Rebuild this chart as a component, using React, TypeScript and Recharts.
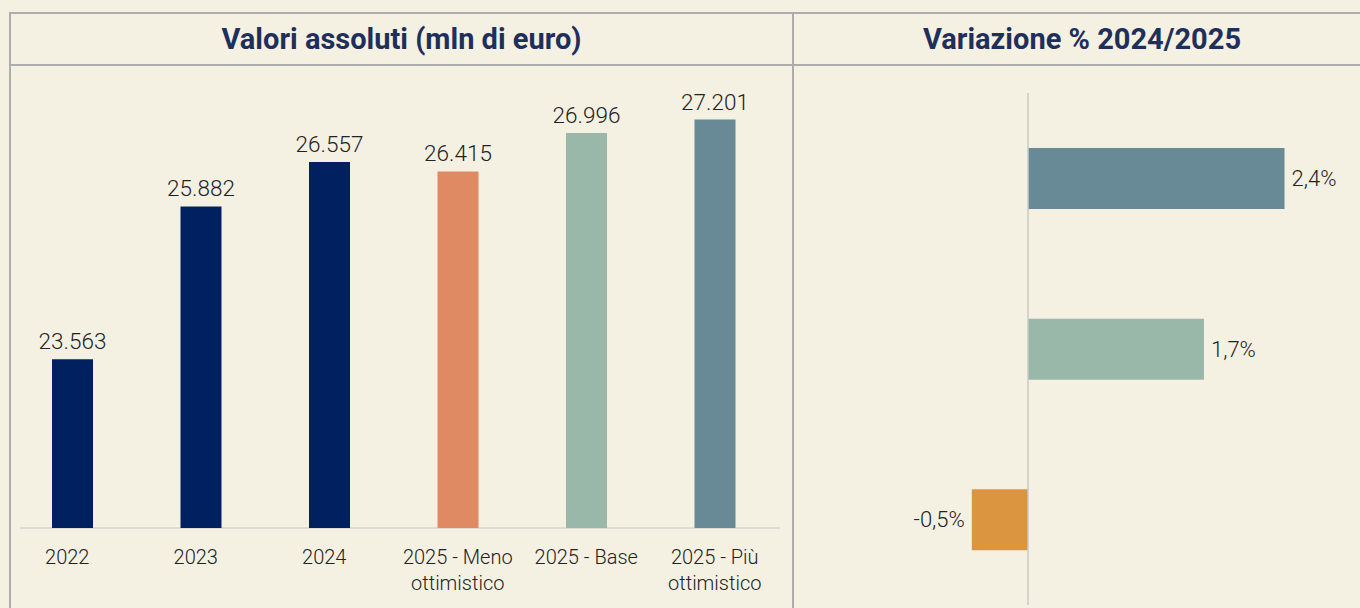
import React from "react";
import { BarChart, Bar, XAxis, YAxis, Cell, LabelList, ReferenceLine } from "recharts";

const categories = ["2022", "2023", "2024", "2025 - Meno ottimistico", "2025 - Base", "2025 - Più ottimistico"];
const values = [23563, 25882, 26557, 26415, 26996, 27201];
const barColors = ["#012060", "#012060", "#012060", "#E08A63", "#99B8AA", "#688A96"];

const changeCategories = ["2025 - Più ottimistico", "2025 - Base", "2025 - Meno ottimistico"];
const changeValues = [2.42, 1.66, -0.53];
const changeColors = ["#688A96", "#99B8AA", "#DB9540"];

const leftTitle = "Valori assoluti (mln di euro)";
const rightTitle = "Variazione % 2024/2025";

const yDomain = [21000, 28000];
const xDomain = [-1, 3];

const absData = categories.map((c, i) => ({ name: c, value: values[i] }));
const changeData = changeCategories.map((c, i) => ({ name: c, value: changeValues[i] }));

const FONT = "Roboto, 'Noto Sans', sans-serif";
const BG = "#F5F1E2";
const BORDER = "#ADADAD";

const fmtThousands = (v: number) => {
  const s = Math.round(v).toString();
  return s.replace(/\B(?=(\d{3})+(?!\d))/g, ".");
};

const fmtPct = (v: number) => (Math.round(v * 10) / 10).toFixed(1).replace(".", ",") + "%";

const CatTick = (props: any) => {
  const { x, y, payload } = props;
  const text = String(payload.value);
  const idx = text.lastIndexOf(" ");
  const lines = text.length > 12 && idx > 0 ? [text.slice(0, idx), text.slice(idx + 1)] : [text];
  const shift = idx < 0 ? -5 : 0;
  const tx = x + shift;
  return (
    <text x={tx} y={y + 28} textAnchor="middle" fill="#222" fontSize={20} fontFamily={FONT} fontWeight={300}>
      {lines.map((l, i) => (
        <tspan key={i} x={tx} dy={i === 0 ? 0 : 26}>
          {l}
        </tspan>
      ))}
    </text>
  );
};

const ChangeLabel = (props: any) => {
  const { x, y, width, height, value } = props;
  const left = Math.min(x, x + width);
  const right = Math.max(x, x + width);
  const pos = Number(value) >= 0;
  return (
    <text
      x={pos ? right + 7 : left - 7}
      y={y + height / 2}
      textAnchor={pos ? "start" : "end"}
      dominantBaseline="central"
      fill="#222"
      fontSize={22}
      fontFamily={FONT}
      fontWeight={300}
    >
      {fmtPct(Number(value))}
    </text>
  );
};

const line = (style: React.CSSProperties) => (
  <div style={{ position: "absolute", background: BORDER, ...style }} />
);

const titleStyle: React.CSSProperties = {
  position: "absolute",
  top: 14,
  height: 50,
  display: "flex",
  alignItems: "center",
  justifyContent: "center",
  color: "#1F2F5C",
  fontWeight: 700,
  fontSize: 29,
};

export default function App() {
  return (
    <div
      style={{
        position: "fixed",
        left: 0,
        top: 0,
        width: 1360,
        height: 608,
        background: BG,
        overflow: "hidden",
        fontFamily: FONT,
      }}
    >
      {line({ left: 10, top: 12, width: 1360, height: 2 })}
      {line({ left: 10, top: 64, width: 1360, height: 2 })}
      {line({ left: 9, top: 12, width: 2, height: 600 })}
      {line({ left: 792, top: 12, width: 2, height: 600 })}
      <div style={{ position: "absolute", left: 20, top: 527, width: 760, height: 2, background: "#DEDCD6" }} />

      <div style={{ ...titleStyle, left: 10, width: 783 }}>{leftTitle}</div>
      <div style={{ ...titleStyle, left: 794, width: 576 }}>{rightTitle}</div>

      <div style={{ position: "absolute", left: 0, top: 0 }}>
        <BarChart
          width={793}
          height={608}
          data={absData}
          margin={{ top: 67, right: 14, bottom: 0, left: 8 }}
          barSize={41}
        >
          <XAxis
            dataKey="name"
            axisLine={false}
            tickLine={false}
            height={80}
            interval={0}
            tick={<CatTick />}
          />
          <YAxis hide domain={yDomain} allowDataOverflow type="number" />
          <Bar dataKey="value" isAnimationActive={false}>
            {absData.map((d, i) => (
              <Cell key={d.name} fill={barColors[i]} />
            ))}
            <LabelList
              dataKey="value"
              position="top"
              offset={10}
              formatter={(v: any) => fmtThousands(Number(v))}
              style={{ fill: "#222", fontSize: 22.5, fontFamily: FONT, fontWeight: 300 }}
            />
          </Bar>
        </BarChart>
      </div>

      <div style={{ position: "absolute", left: 793, top: 0 }}>
        <BarChart
          width={567}
          height={608}
          data={changeData}
          layout="vertical"
          margin={{ top: 93, right: 14, bottom: 3, left: 129 }}
          barSize={61}
        >
          <XAxis type="number" hide domain={xDomain} allowDataOverflow />
          <YAxis type="category" dataKey="name" hide />
          <ReferenceLine x={0} stroke="#C8C8C8" strokeWidth={1.5} />
          <Bar dataKey="value" isAnimationActive={false}>
            {changeData.map((d, i) => (
              <Cell key={d.name} fill={changeColors[i]} />
            ))}
            <LabelList dataKey="value" content={<ChangeLabel />} />
          </Bar>
        </BarChart>
      </div>
    </div>
  );
}
